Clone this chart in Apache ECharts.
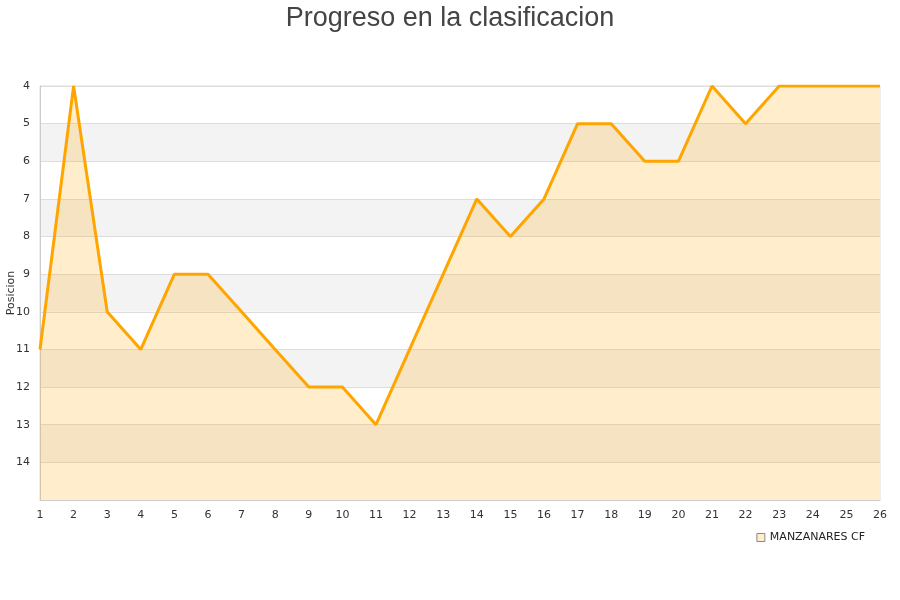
<!DOCTYPE html>
<html><head><meta charset="utf-8">
<script src="https://cdn.jsdelivr.net/npm/echarts@6/dist/echarts.min.js"></script>
<style>html,body{margin:0;padding:0;background:#fff}#c{width:900px;height:600px}</style>
</head><body><div id="c"></div>
<script>
const jornadas = ['1','2','3','4','5','6','7','8','9','10','11','12','13','14','15','16','17','18','19','20','21','22','23','24','25','26'];
const posiciones = [11,4,10,11,9,9,10,11,12,12,13,11,9,7,8,7,5,5,6,6,4,5,4,4,4,4];
const equipo = 'MANZANARES CF';
const tituloTexto = 'Progreso en la clasificacion';
const ejeY = 'Posicion';

const chart = echarts.init(document.getElementById('c'));
chart.setOption({
  animation: false,
  title: {text: tituloTexto, left: 'center', top: 0,
    textStyle: {fontFamily: 'Liberation Sans, Arial, sans-serif', fontSize: 27, fontWeight: 'normal', color: '#444'}},
  grid: {left: 40, right: 20, top: 86, bottom: 100, show: true, borderColor: '#ddd', borderWidth: 1,
    containLabel: false, outerBoundsMode: 'none'},
  legend: {data: [{name: equipo, icon: 'rect'}], right: 30, top: 527, itemWidth: 8, itemHeight: 8, itemGap: 10,
    itemStyle: {color: '#ffedcc', borderColor: '#888', borderWidth: 1},
    textStyle: {fontFamily: 'DejaVu Sans, sans-serif', fontSize: 11, color: '#222'}},
  xAxis: {type: 'category', data: jornadas, boundaryGap: false,
    axisLine: {lineStyle: {color: '#ccc'}}, axisTick: {show: false},
    axisLabel: {fontFamily: 'DejaVu Sans, sans-serif', fontSize: 11, color: '#333', margin: 10},
    splitLine: {show: false}},
  yAxis: {type: 'value', inverse: true, min: 4, max: 15, interval: 1,
    name: ejeY, nameLocation: 'middle', nameGap: 23, nameRotate: 90, nameMoveOverlap: false,
    nameTextStyle: {fontFamily: 'DejaVu Sans, sans-serif', fontSize: 11, color: '#333'},
    axisLine: {show: true, lineStyle: {color: '#ccc'}}, axisTick: {show: false},
    axisLabel: {fontFamily: 'DejaVu Sans, sans-serif', fontSize: 11, color: '#333', margin: 10,
      formatter: v => v === 15 ? '' : String(v)},
    splitLine: {show: true, lineStyle: {color: '#ddd'}},
    splitArea: {show: true, areaStyle: {color: ['#ffffff', '#f3f3f3']}}},
  series: [{name: equipo, type: 'line', data: posiciones, symbol: 'none',
    lineStyle: {color: '#ffa500', width: 3}, itemStyle: {color: '#ffedcc'},
    areaStyle: {origin: 'end', color: 'rgba(255,165,0,0.2)', opacity: 1}}]
});
</script></body></html>
